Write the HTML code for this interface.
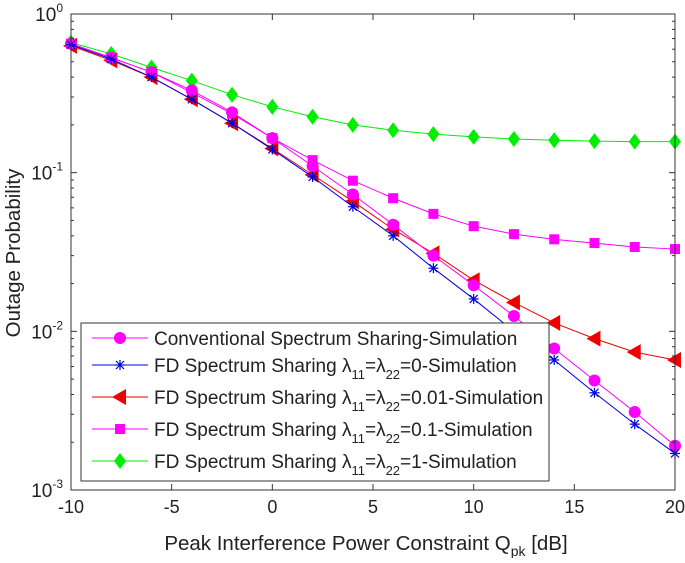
<!DOCTYPE html>
<html><head><meta charset="utf-8"><style>
body{margin:0;background:#fff;}
svg text{font-family:"Liberation Sans",sans-serif;fill:#222;}
</style></head><body>
<svg id="chart" width="685" height="558" viewBox="0 0 685 558" xmlns="http://www.w3.org/2000/svg">
<rect x="0" y="0" width="685" height="558" fill="#fff"/>
<g id="grid"></g>
<g id="series"></g>
<g id="axes"></g>
<g id="legend"></g>
</svg>
<script>
const xVals=[-10,-8,-6,-4,-2,0,2,4,6,8,10,12,14,16,18,20];
const conv=[0.65,0.53,0.43,0.33,0.24,0.165,0.11,0.073,0.047,0.030,0.0195,0.0125,0.0078,0.0049,0.0031,0.0019];
const fd0=[0.64,0.52,0.40,0.29,0.205,0.14,0.094,0.061,0.040,0.025,0.016,0.010,0.0066,0.0041,0.0026,0.0017];
const fd001=[0.63,0.51,0.40,0.29,0.205,0.142,0.097,0.066,0.044,0.031,0.021,0.0152,0.0113,0.0090,0.0074,0.0066];
const fd01=[0.65,0.53,0.43,0.32,0.235,0.165,0.12,0.089,0.069,0.055,0.046,0.041,0.038,0.036,0.034,0.033];
const fd1=[0.66,0.56,0.46,0.38,0.31,0.26,0.225,0.2,0.185,0.175,0.168,0.163,0.160,0.158,0.157,0.157];
const xTicks=[-10,-5,0,5,10,15,20];
const yDecades=[0,-1,-2,-3];
const legendLabels=["Conventional Spectrum Sharing-Simulation","FD Spectrum Sharing λ11=λ22=0-Simulation","FD Spectrum Sharing λ11=λ22=0.01-Simulation","FD Spectrum Sharing λ11=λ22=0.1-Simulation","FD Spectrum Sharing λ11=λ22=1-Simulation"];
const L=71,R=675,T=14,B=490;
const NS="http://www.w3.org/2000/svg";
function xs(v){return L+(v+10)/30*(R-L);}
function ys(v){return T+(-Math.log10(v))/3*(B-T);}
function mk(tag,attrs,parent){const e=document.createElementNS(NS,tag);for(const k in attrs)e.setAttribute(k,attrs[k]);parent.appendChild(e);return e;}
const axes=document.getElementById('axes'),ser=document.getElementById('series'),leg=document.getElementById('legend');
let fr=mk('rect',{x:L,y:T,width:R-L,height:B-T,fill:'none',stroke:'#333','stroke-width':1},axes);

xTicks.forEach(t=>{const x=xs(t);
 mk('line',{x1:x,x2:x,y1:B,y2:B-6,stroke:'#333'},axes);mk('line',{x1:x,x2:x,y1:T,y2:T+6,stroke:'#333'},axes);
 const tx=mk('text',{x:x,y:513,'text-anchor':'middle','font-size':18},axes);tx.textContent=t;
 });
yDecades.forEach(d=>{const y=ys(Math.pow(10,d));
 mk('line',{x1:L,x2:L+6,y1:y,y2:y,stroke:'#333'},axes);mk('line',{x1:R,x2:R-6,y1:y,y2:y,stroke:'#333'},axes);
 const tx=mk('text',{x:L-8,y:y+7,'text-anchor':'end','font-size':19},axes);
 tx.innerHTML='10<tspan dy="-9" font-size="12">'+d+'</tspan>';
 
 if(d>-3)for(let m=2;m<10;m++){const yy=ys(m*Math.pow(10,d-1));
  mk('line',{x1:L,x2:L+3,y1:yy,y2:yy,stroke:'#333'},axes);mk('line',{x1:R,x2:R-3,y1:yy,y2:yy,stroke:'#333'},axes);}
});
let xt=mk('text',{x:366,y:550,'text-anchor':'middle','font-size':20.5},axes);
xt.innerHTML='Peak Interference Power Constraint Q<tspan dy="6" font-size="14">pk</tspan><tspan dy="-6"> [dB]</tspan>';

let yt=mk('text',{x:0,y:0,'text-anchor':'middle','font-size':20.5,transform:'translate(20,253) rotate(-90)'},axes);
yt.textContent='Outage Probability';

function marker(type,x,y,c,p){
 if(type==='circle')return mk('circle',{cx:x,cy:y,r:6,fill:c},p);
 if(type==='square')return mk('rect',{x:x-5,y:y-5,width:10,height:10,fill:c},p);
 if(type==='tri')return mk('polygon',{points:`${x-8},${y} ${x+6},${y-8} ${x+6},${y+8}`,fill:c},p);
 if(type==='diamond')return mk('polygon',{points:`${x},${y-8} ${x+6},${y} ${x},${y+8} ${x-6},${y}`,fill:c},p);
 const g=mk('g',{stroke:c,'stroke-width':1.2},p);
 mk('line',{x1:x-5,x2:x+5,y1:y,y2:y},g);mk('line',{x1:x,x2:x,y1:y-5,y2:y+5},g);
 mk('line',{x1:x-4,x2:x+4,y1:y-4,y2:y+4},g);mk('line',{x1:x-4,x2:x+4,y1:y+4,y2:y-4},g);return g;}
const defs=[[fd1,'#00ee00','diamond','series-fd-1'],[fd01,'#ff00ff','square','series-fd-0.1'],[fd001,'#ee0000','tri','series-fd-0.01'],[conv,'#ff00ff','circle','series-conventional'],[fd0,'#0000dd','star','series-fd-0']];
defs.forEach(([arr,c,m,name])=>{
 const g=mk('g',{},ser);
 mk('polyline',{points:arr.map((v,i)=>xs(xVals[i])+','+ys(v)).join(' '),fill:'none',stroke:c,'stroke-width':1},g);
 arr.forEach((v,i)=>{const el=marker(m,xs(xVals[i]),ys(v),c,g);});
});
const lb=mk('rect',{x:81,y:323,width:468,height:158,fill:'#fff',stroke:'#333'},leg);

const legOrder=[[conv,'#ff00ff','circle'],[fd0,'#0000dd','star'],[fd001,'#ee0000','tri'],[fd01,'#ff00ff','square'],[fd1,'#00ee00','diamond']];
const ly=[338,365,397,429,461];
legendLabels.forEach((lab,i)=>{
 const g=mk('g',{},leg);
 const [,c,m]=legOrder[i];
 mk('line',{x1:92,x2:148,y1:ly[i],y2:ly[i],stroke:c},g);marker(m,120,ly[i],c,g);
 const t=mk('text',{x:154,y:ly[i]+7,'font-size':19},g);
 if(i===0)t.textContent=lab;
 else{const val=lab.split('=')[2].replace('-Simulation','');
  t.innerHTML='FD Spectrum Sharing λ<tspan dy="7" font-size="13">11</tspan><tspan dy="-7">=λ</tspan><tspan dy="7" font-size="13">22</tspan><tspan dy="-7">='+val+'-Simulation</tspan>';}
});
</script>
</body></html>
